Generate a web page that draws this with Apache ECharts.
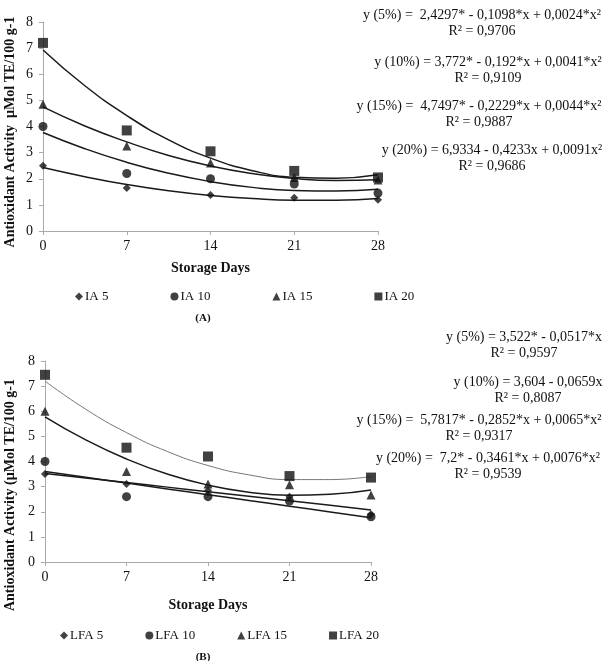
<!DOCTYPE html>
<html>
<head>
<meta charset="utf-8">
<script src="https://cdn.jsdelivr.net/npm/echarts@6/dist/echarts.min.js"></script>
<style>
  html, body { margin: 0; padding: 0; background: #fff; }
  #content { width: 610px; height: 661px; }
</style>
</head>
<body>
<div id="content"></div>
<script>
const days = [0, 7, 14, 21, 28];
const trendDays = [0, 3.5, 7, 10.5, 14, 17.5, 21, 24.5, 28];

// panel A, measured points
const ia5 = [2.5, 1.65, 1.38, 1.27, 1.2];
const ia10 = [4.0, 2.2, 2.0, 1.8, 1.45];
const ia15 = [4.85, 3.25, 2.6, 2.05, 1.95];
const ia20 = [7.2, 3.85, 3.05, 2.3, 2.05];
// panel A, trend curves
const ia5Trend = [2.43, 2.08, 1.78, 1.54, 1.36, 1.24, 1.18, 1.18, 1.24];
const ia10Trend = [3.77, 3.15, 2.63, 2.21, 1.89, 1.67, 1.55, 1.53, 1.6];
const ia15Trend = [4.75, 4.02, 3.41, 2.89, 2.49, 2.2, 2.01, 1.93, 1.96];
const ia20Trend = [6.93, 5.56, 4.42, 3.49, 2.79, 2.31, 2.06, 2.02, 2.15];

// panel B, measured points
const lfa5 = [3.5, 3.1, 2.85, 2.6, 1.9];
const lfa10 = [4.0, 2.6, 2.6, 2.43, 1.8];
const lfa15 = [6.0, 3.6, 3.1, 3.07, 2.67];
const lfa20 = [7.45, 4.55, 4.2, 3.42, 3.36];
// panel B, trend curves
const lfa5Trend = [3.52, 3.34, 3.16, 2.98, 2.8, 2.62, 2.44, 2.26, 2.07];
const lfa10Trend = [3.6, 3.37, 3.14, 2.91, 2.68, 2.45, 2.22, 1.99, 1.76];
const lfa15Trend = [5.78, 4.86, 4.1, 3.5, 3.06, 2.78, 2.66, 2.7, 2.87];
const lfa20Trend = [7.2, 6.08, 5.15, 4.4, 3.84, 3.47, 3.28, 3.28, 3.4];

const eqA = [
  ['y (5%) =  2,4297* - 0,1098*x + 0,0024*x²', 'R² = 0,9706', 482, 15],
  ['y (10%) = 3,772* - 0,192*x + 0,0041*x²', 'R² = 0,9109', 488, 62],
  ['y (15%) =  4,7497* - 0,2229*x + 0,0044*x²', 'R² = 0,9887', 479, 106],
  ['y (20%) = 6,9334 - 0,4233x + 0,0091x²', 'R² = 0,9686', 492, 150]
];
const eqB = [
  ['y (5%) = 3,522* - 0,0517*x', 'R² = 0,9597', 524, 337],
  ['y (10%) = 3,604 - 0,0659x', 'R² = 0,8087', 528, 382],
  ['y (15%) =  5,7817* - 0,2852*x + 0,0065*x²', 'R² = 0,9317', 479, 420],
  ['y (20%) =  7,2* - 0,3461*x + 0,0076*x²', 'R² = 0,9539', 488, 458]
];

const font = '"Liberation Serif", "DejaVu Serif", serif';
const ink = '#111';

function pts(xs, ys) {
  return xs.map((x, i) => [x, ys[i]]);
}

function scatter(name, idx, ys, symbol, size) {
  return {
    name: name, type: 'scatter', xAxisIndex: idx, yAxisIndex: idx,
    symbol: symbol, symbolSize: size, z: 5,
    itemStyle: { color: ink },
    data: pts(days, ys)
  };
}

function trend(idx, ys, color, width) {
  return {
    type: 'line', xAxisIndex: idx, yAxisIndex: idx, smooth: true,
    showSymbol: false, silent: true,
    lineStyle: { color: color || '#1a1a1a', width: width || 1.5 },
    data: pts(trendDays, ys)
  };
}

const eqText = [];
[eqA, eqB].forEach(list => {
  list.forEach(e => {
    eqText.push({ type: 'text', x: e[2], y: e[3],
      style: { text: e[0], font: '14px ' + font, fill: ink, textAlign: 'center', textVerticalAlign: 'middle' } });
    eqText.push({ type: 'text', x: e[2], y: e[3] + 16,
      style: { text: e[1], font: '14px ' + font, fill: ink, textAlign: 'center', textVerticalAlign: 'middle' } });
  });
});

function xAx(idx, gap) {
  return {
    type: 'value', gridIndex: idx, min: 0, max: 28, interval: 7,
    name: 'Storage Days', nameLocation: 'middle', nameGap: gap,
    nameTextStyle: { fontFamily: font, fontWeight: 'bold', fontSize: 14, color: ink },
    axisLine: { lineStyle: { color: '#aaa' } },
    axisTick: { lineStyle: { color: '#aaa' }, length: 4 },
    axisLabel: { fontFamily: font, fontSize: 14, color: ink, margin: 8 },
    splitLine: { show: false }
  };
}

function yAx(idx) {
  return {
    type: 'value', gridIndex: idx, min: 0, max: 8, interval: 1,
    axisLine: { show: true, lineStyle: { color: '#aaa' } },
    axisTick: { show: true, lineStyle: { color: '#aaa' }, length: 4 },
    axisLabel: { fontFamily: font, fontSize: 14, color: ink, margin: 10 },
    splitLine: { show: false }
  };
}

function legend(names, top, left, gap) {
  return {
    data: names, top: top, left: left, itemGap: gap,
    itemWidth: 8, itemHeight: 8, selectedMode: false,
    textStyle: { fontFamily: font, fontSize: 13, color: ink, padding: [0, 0, 0, -3] }
  };
}

const chart = echarts.init(document.getElementById('content'));
chart.setOption({
  animation: false,
  backgroundColor: '#fff',
  grid: [
    { left: 43, top: 22, width: 335, height: 209 },
    { left: 45, top: 361, width: 326, height: 201 }
  ],
  xAxis: [xAx(0, 30), xAx(1, 36)],
  yAxis: [yAx(0), yAx(1)],
  legend: [
    legend(['IA 5', 'IA 10', 'IA 15', 'IA 20'], 285, 70, 62),
    legend(['LFA 5', 'LFA 10', 'LFA 15', 'LFA 20'], 624, 55, 42)
  ],
  graphic: [
    { type: 'text', x: 10, y: 132, rotation: Math.PI / 2,
      style: { text: 'Antioxidant Activity  µMol TE/100 g-1', font: 'bold 14px ' + font,
        fill: ink, textAlign: 'center', textVerticalAlign: 'middle' } },
    { type: 'text', x: 10, y: 495, rotation: Math.PI / 2,
      style: { text: 'Antioxidant Activity (µMol TE/100 g-1', font: 'bold 14px ' + font,
        fill: ink, textAlign: 'center', textVerticalAlign: 'middle' } },
    { type: 'text', x: 203, y: 318,
      style: { text: '(A)', font: 'bold 11px ' + font, fill: ink, textAlign: 'center', textVerticalAlign: 'middle' } },
    { type: 'text', x: 203, y: 657,
      style: { text: '(B)', font: 'bold 11px ' + font, fill: ink, textAlign: 'center', textVerticalAlign: 'middle' } }
  ].concat(eqText),
  series: [
    trend(0, ia5Trend), trend(0, ia10Trend), trend(0, ia15Trend), trend(0, ia20Trend),
    scatter('IA 5', 0, ia5, 'diamond', 8),
    scatter('IA 10', 0, ia10, 'circle', 9),
    scatter('IA 15', 0, ia15, 'triangle', 9),
    scatter('IA 20', 0, ia20, 'rect', 10),
    trend(1, lfa5Trend), trend(1, lfa10Trend), trend(1, lfa15Trend), trend(1, lfa20Trend, '#777', 1),
    scatter('LFA 5', 1, lfa5, 'diamond', 8),
    scatter('LFA 10', 1, lfa10, 'circle', 9),
    scatter('LFA 15', 1, lfa15, 'triangle', 9),
    scatter('LFA 20', 1, lfa20, 'rect', 10)
  ]
});
</script>
</body>
</html>
